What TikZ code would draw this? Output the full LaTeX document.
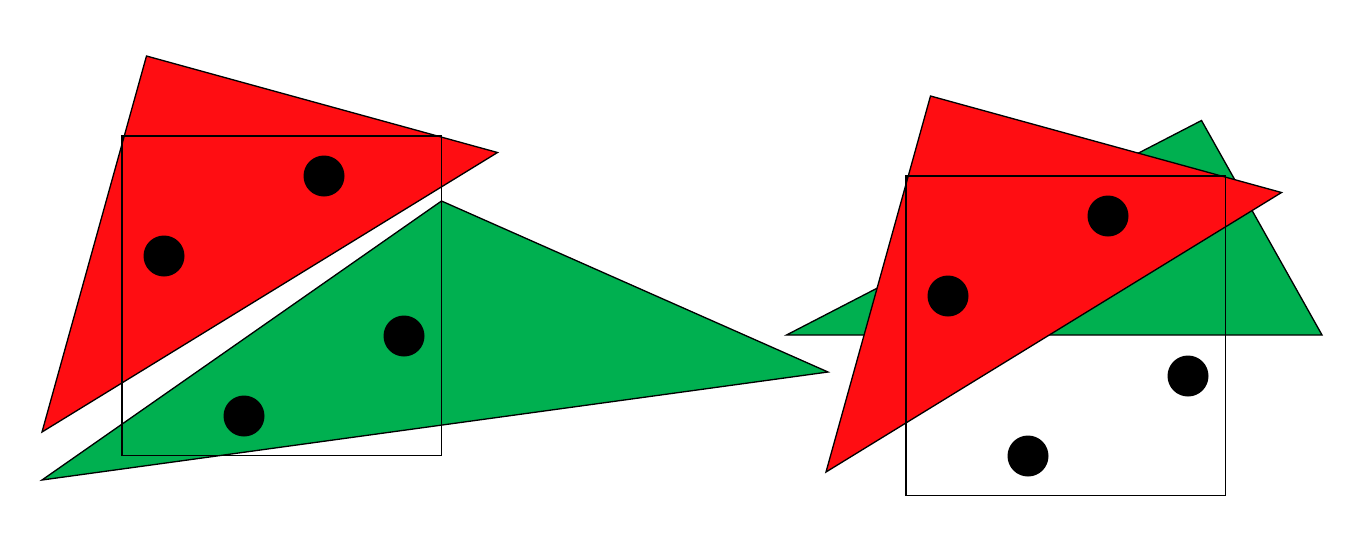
\documentclass[tikz,border=0pt]{standalone}
\definecolor{trired}{RGB}{255,13,18}
\definecolor{trigreen}{RGB}{0,176,80}
\begin{document}
\begin{tikzpicture}[x=0.02cm,y=-0.02cm,
  tri/.style={draw=black,line width=0.75pt,line join=miter},
  frame/.style={draw=black,line width=0.9pt}]
\useasboundingbox (0,0) rectangle (1366,532);
% left: red and green apart
\filldraw[tri,fill=trired] (146.5,56) -- (497.5,152.5) -- (42,432) -- cycle;
\filldraw[tri,fill=trigreen] (441.5,201) -- (828,372) -- (42,480) -- cycle;
\draw[frame] (122,136) rectangle (441.5,455.5);
\foreach \px/\py in {324/176,164/256,404/336,244/416}
    \fill[black] (\px,\py) circle (20.5);
% right: red over green
\filldraw[tri,fill=trigreen] (1201.5,120.5) -- (1322,335) -- (786.5,335) -- cycle;
\filldraw[tri,fill=trired] (930.5,96) -- (1281.5,192.5) -- (826,472) -- cycle;
\draw[frame] (906,176) rectangle (1225.5,495.5);
\foreach \px/\py in {1108/216,948/296,1188/376,1028/456}
    \fill[black] (\px,\py) circle (20.5);
\end{tikzpicture}
\end{document}
